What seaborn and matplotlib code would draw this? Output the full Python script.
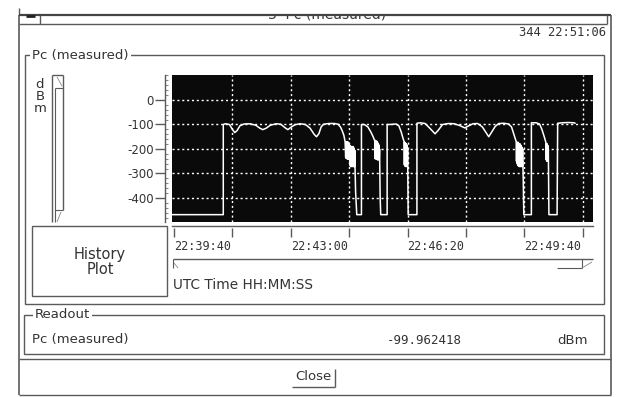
import matplotlib
matplotlib.use("Agg")
import matplotlib.pyplot as plt
import seaborn as sns
import pandas as pd
from matplotlib.patches import Rectangle
from matplotlib.ticker import FixedLocator, NullFormatter

# ---------------- data (seconds after 22:39:40, dBm) ----------------
time_s = [
    -4, 84.4, 84.4, 88, 95, 100, 104, 108, 113, 120, 130, 140, 147, 152, 158, 165, 175,
    183, 190, 195, 200, 207, 216, 225, 233, 240, 244, 248, 252, 256, 265, 275, 281, 285, 288, 291, 293,
    294, 294.5, 295, 295.5, 296, 296.5, 297, 297.5, 298, 298.5, 299, 299.5, 300, 300.5, 301, 301.5,
    302, 302.5, 303, 303.5, 304, 304.5, 305, 305.5, 306, 306.5, 307, 307.5, 308, 308.5, 309, 309.5, 310,
    311, 313, 321, 321,
    326, 332, 337, 341,
    344, 344.5, 345, 345.5, 346, 346.5, 347, 347.5, 348, 348.5, 349, 349.5, 350, 350.5, 351, 351.5, 352,
    353, 354, 365, 365,
    370, 380, 385, 389, 392,
    394, 394.5, 395, 395.5, 396, 396.5, 397, 397.5, 398, 398.5, 399, 399.5, 400,
    401, 416, 416,
    422, 430, 438, 447, 452, 460, 470, 480, 490, 498, 505, 512, 520, 528, 535, 539, 543, 550, 556,
    565, 573, 578, 582,
    586, 586.5, 587, 587.5, 588, 588.5, 589, 589.5, 590, 590.5, 591, 591.5, 592, 592.5, 593, 593.5,
    594, 594.5, 595, 595.5, 596, 596.5, 597,
    598, 599, 612, 612,
    620, 626, 630, 634,
    637, 637.5, 638, 638.5, 639, 639.5, 640, 640.5, 641,
    642, 656, 657, 665, 675, 685, 687,
]
pc_dbm = [
    -468, -468, -100, -97, -100, -120, -133, -125, -105, -98, -97, -103, -115, -121, -115, -103, -97,
    -99, -113, -121, -112, -101, -97, -100, -115, -140, -150, -138, -110, -99, -96, -96, -99, -110, -125, -145, -170,
    -235, -172, -238, -175, -240, -170, -236, -178, -242, -172, -238, -176, -240, -185, -262, -190,
    -270, -188, -272, -192, -268, -190, -272, -195, -270, -190, -272, -200, -270, -196, -272, -205, -272,
    -375, -468, -468, -100,
    -100, -110, -130, -150,
    -168, -240, -165, -238, -170, -242, -168, -236, -172, -245, -175, -240, -180, -245, -185, -240, -200,
    -395, -468, -468, -100,
    -100, -98, -105, -130, -155,
    -170, -265, -172, -270, -175, -268, -178, -272, -180, -270, -185, -272, -200,
    -468, -468, -95,
    -93, -96, -115, -138, -125, -100, -96, -97, -105, -114, -105, -97, -96, -110, -135, -150, -135, -108, -96,
    -95, -98, -110, -140,
    -170, -250, -172, -258, -175, -265, -172, -268, -176, -270, -180, -272, -178, -270, -182, -272,
    -185, -270, -190, -272, -195, -270, -200,
    -320, -468, -468, -93,
    -93, -98, -120, -150,
    -175, -245, -178, -250, -180, -248, -185, -250, -200,
    -468, -468, -95, -93, -92, -93, -95,
]
assert len(time_s) == len(pc_dbm)

y_ticks = [0, -100, -200, -300, -400]
x_tick_secs = [0, 200, 400, 600]
x_tick_labels = ["22:39:40", "22:43:00", "22:46:20", "22:49:40"]
x_minor_secs = [100, 300, 500, 700]

df = pd.DataFrame({"t": time_s, "pc": pc_dbm})

# ---------------- figure ----------------
sns.set_style("white")
plt.rcParams["font.family"] = ["DejaVu Sans"]
plt.rcParams["axes.unicode_minus"] = False
W, H = 617, 397
fig = plt.figure(figsize=(W / 100, H / 100), dpi=100)
fig.patch.set_facecolor("white")

ui = fig.add_axes([0, 0, 1, 1])
ui.set_xlim(0, W)
ui.set_ylim(H, 0)
ui.axis("off")

LC = "#5a5a5a"
TC = "#333333"


def line(xs, ys, lw=1.0, c=LC, z=2):
    ui.plot(xs, ys, color=c, lw=lw, zorder=z, solid_capstyle="butt")


def box(x0, y0, x1, y1, lw=1.0, c=LC, z=2):
    ui.add_patch(Rectangle((x0, y0), x1 - x0, y1 - y0, fill=False, ec=c, lw=lw, zorder=z))


# title (clipped by the top border)
ui.text(327, 15, "3  Pc (measured)", ha="center", va="center", fontsize=10, color=TC, zorder=1)
ui.add_patch(Rectangle((0, 0), W, 15, fc="white", ec="none", zorder=3))
line([19, 19], [8, 15], lw=1.0, z=4)
# window frame
line([19, 611], [15, 15], lw=1.6, c="#444444", z=4)
line([19, 19], [15, 395], lw=1.2)
line([611, 611], [15, 395], lw=1.2)
line([19, 611], [395, 395], lw=1.0)
line([19, 607], [24, 24], lw=1.0)
line([607, 607], [15, 24], lw=1.0)
line([40, 40], [15, 24], lw=1.0)
line([26, 35], [16, 16], lw=2.0, c="#222222", z=5)

ui.text(606, 33, "344 22:51:06", ha="right", va="center", fontsize=8.7,
        family="DejaVu Sans Mono", color=TC)

# main group box
box(25, 55, 604, 304)
ui.text(32, 55, "Pc (measured)", ha="left", va="center", fontsize=9.5, color=TC, zorder=5,
        bbox=dict(fc="white", ec="none", pad=1.5))

# dBm vertical label
for ch, yy in zip("dBm", [84, 96, 109]):
    ui.text(40, yy, ch, ha="center", va="center", fontsize=9.5, color=TC)

# vertical scrollbar
line([52, 52], [75, 222])
line([55, 55], [88, 222], lw=0.8)
line([63, 63], [75, 210])
line([52, 63], [75, 75])
line([55, 63], [88, 88], lw=0.8)
line([57, 62], [77, 86], lw=0.6, c="#888888")
line([55, 63], [210, 210], lw=0.8)
line([61, 57], [212, 222], lw=0.6, c="#888888")

# history plot box
box(32, 226, 167, 296)
ui.text(100, 255, "History", ha="center", va="center", fontsize=10.5, color=TC)
ui.text(100, 270, "Plot", ha="center", va="center", fontsize=10.5, color=TC)

# horizontal scrollbar below the time axis
line([173, 593], [259, 259], lw=1.0)
line([173, 173], [259, 268], lw=0.8)
line([174, 178], [263, 268], lw=0.6, c="#888888")
line([557, 582], [268, 268], lw=0.8)
line([582, 582], [259, 268], lw=0.8)
line([582, 592], [268, 262], lw=0.6, c="#888888")
ui.text(173, 285, "UTC Time HH:MM:SS", ha="left", va="center", fontsize=9.8, color=TC)

# readout group
box(24, 315, 604, 354)
ui.text(35, 315, "Readout", ha="left", va="center", fontsize=9.5, color=TC, zorder=5,
        bbox=dict(fc="white", ec="none", pad=1.5))
ui.text(32, 340, "Pc (measured)", ha="left", va="center", fontsize=9.5, color=TC)
ui.text(424, 340, "-99.962418", ha="center", va="center", fontsize=9,
        family="DejaVu Sans Mono", color=TC)
ui.text(588, 340, "dBm", ha="right", va="center", fontsize=9.5, color=TC)
line([19, 611], [359, 359], lw=1.0)

# close button
ui.text(313, 377, "Close", ha="center", va="center", fontsize=9.5, color=TC)
line([292, 335], [387, 387], lw=1.0)
line([335, 335], [369, 387], lw=1.0)


def px_axes(x0, y0, x1, y1):
    return fig.add_axes([x0 / W, 1 - y1 / H, (x1 - x0) / W, (y1 - y0) / H])


# ---------------- the chart ----------------
ax = px_axes(172, 75, 593, 222)
ax.set_facecolor("#0a0a0a")
sns.lineplot(data=df, x="t", y="pc", estimator=None, sort=False, color="white",
             lw=1.1, ax=ax, legend=False)
ax.set_xlim(-3.4, 717.5)
ax.set_ylim(-498, 102)
ax.set_xlabel("")
ax.set_ylabel("")

grid_style = dict(color="white", lw=1.0, ls=(0, (1.5, 2.0)))
for t in sorted(x_tick_secs[1:] + x_minor_secs):
    ax.axvline(t, zorder=0.5, **grid_style)
for v in y_ticks:
    ax.axhline(v, zorder=0.5, **grid_style)

ax.set_xticks([])
for s in ["top", "right", "bottom"]:
    ax.spines[s].set_visible(False)
ax.spines["left"].set_position(("outward", 5))
ax.spines["left"].set_color(LC)
ax.spines["left"].set_linewidth(1.0)
ax.set_yticks(y_ticks)
ax.set_yticklabels([str(v) for v in y_ticks], fontsize=8.5, color=TC)
ax.yaxis.set_minor_locator(FixedLocator(list(range(-480, 101, 20))))
ax.tick_params(axis="y", which="major", left=True, length=7, width=1, color=LC, pad=1,
               direction="out")
ax.tick_params(axis="y", which="minor", left=True, length=2, width=0.8, color="#888888",
               direction="in")

# time axis strip
axt = px_axes(172, 226, 593, 237)
axt.set_facecolor("none")
axt.set_xlim(-3.4, 717.5)
axt.set_ylim(0, 1)
axt.set_yticks([])
for s in ["left", "right", "bottom"]:
    axt.spines[s].set_visible(False)
axt.spines["top"].set_color(LC)
axt.spines["top"].set_linewidth(1.0)
axt.set_xticks(x_tick_secs)
axt.set_xticklabels(x_tick_labels, fontsize=8.5, family="DejaVu Sans Mono", color=TC, ha="left")
axt.xaxis.set_minor_locator(FixedLocator(x_minor_secs))
axt.xaxis.set_minor_formatter(NullFormatter())
axt.tick_params(axis="x", which="both", bottom=True, length=6.5, width=1, color=LC,
                direction="in", pad=2)

fig.savefig("out.png", dpi=100, facecolor="white")
